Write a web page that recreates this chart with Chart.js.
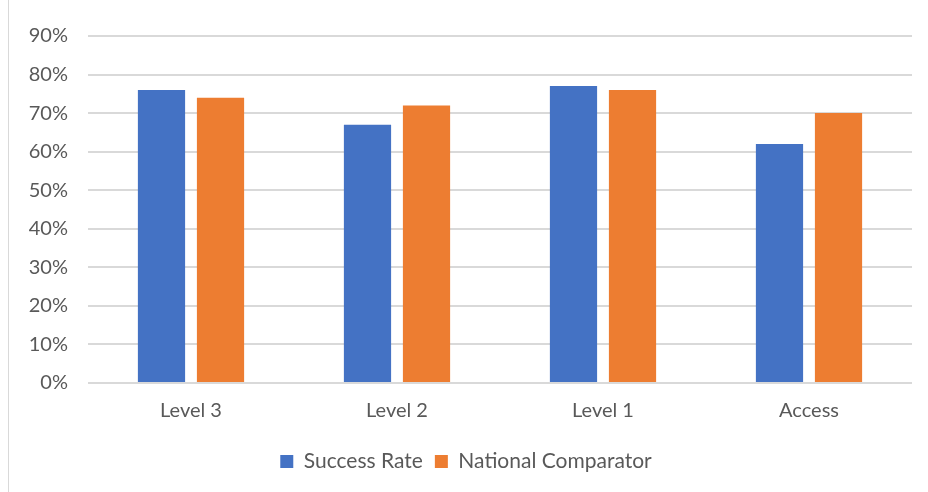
<!DOCTYPE html>
<html>
<head>
<meta charset="utf-8">
<script src="https://cdn.jsdelivr.net/npm/chart.js@4.4.0/dist/chart.umd.min.js"></script>
<style>
  html, body { margin: 0; padding: 0; background: #fff; }
  #wrap { position: relative; width: 928px; height: 492px; }
  #edge { position: absolute; left: 8px; top: 0; width: 1px; height: 492px; background: #d9d9d9; }
</style>
</head>
<body>
<div id="wrap">
  <div id="edge"></div>
  <canvas id="chart" width="928" height="492"></canvas>
</div>
<script>
var categories = ["Level 3", "Level 2", "Level 1", "Access"];
var successRate = [76, 67, 77, 62];
var nationalComparator = [74, 72, 76, 70];
var seriesNames = ["Success Rate", "National Comparator"];

var ctx = document.getElementById("chart").getContext("2d");
var textColor = "#595959";
var font = { family: "Lato, 'Open Sans', sans-serif", size: 20 };
var legendFont = { family: "Lato, 'Open Sans', sans-serif", size: 21 };

var config = {
    type: "bar",
    data: {
        labels: categories,
        datasets: [{
            label: seriesNames[0],
            data: successRate,
            backgroundColor: "#4472C4"
        },{
            label: seriesNames[1],
            data: nationalComparator,
            backgroundColor: "#ED7D31"
        }]
    },
    options: {
        responsive: false,
        animation: false,
        layout: { padding: { left: 20, right: 16, top: 36, bottom: 10 } },
        datasets: { bar: { categoryPercentage: 0.573, barPercentage: 0.8 } },
        plugins: {
            tooltip: { enabled: false },
            legend: {
                position: "bottom",
                labels: { color: textColor, font: legendFont, boxWidth: 13, boxHeight: 13, padding: 12 }
            }
        },
        scales: {
            x: {
                grid: { display: false, drawTicks: false },
                border: { display: false },
                ticks: { color: textColor, font: font, padding: 16 }
            },
            y: {
                min: 0,
                max: 90,
                afterFit: function(scale){ scale.width = 68; },
                grid: { color: "#d9d9d9", lineWidth: 2, drawTicks: false },
                border: { display: false },
                ticks: {
                    stepSize: 10,
                    color: textColor,
                    font: font,
                    padding: 20,
                    callback: function(v){ return v + "%"; }
                }
            }
        }
    }
};

var chart = new Chart(ctx, config);
</script>
</body>
</html>
